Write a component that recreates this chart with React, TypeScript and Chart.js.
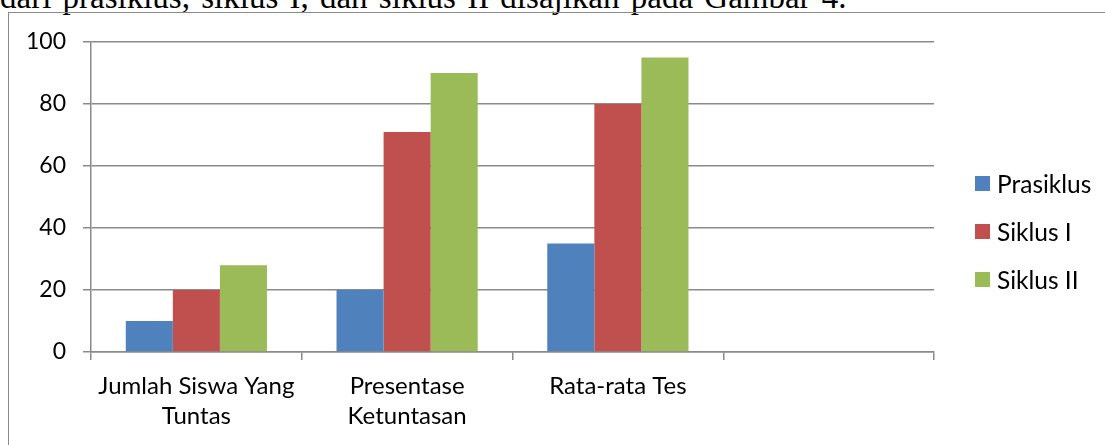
import React, { useEffect, useRef } from "react";
import { Chart, registerables } from "chart.js";

Chart.register(...registerables);

const categories: (string | string[])[] = [
  ["Jumlah Siswa Yang", "Tuntas"],
  ["Presentase", "Ketuntasan"],
  "Rata-rata Tes",
  "",
];
const seriesNames = ["Prasiklus", "Siklus I", "Siklus II"];
const prasiklus = [10, 20, 35, null];
const siklusI = [20, 71, 80, null];
const siklusII = [28, 90, 95, null];
const seriesColors = ["#4F81BD", "#C0504D", "#9BBB59"];
const yMin = 0;
const yMax = 100;
const yStep = 20;
const caption = "dari prasiklus, siklus I, dan siklus II disajikan pada Gambar 4.";

const FONT = "Lato, 'Open Sans', sans-serif";
const GRID = "#8a8a8a";

export default function App() {
  const ref = useRef<HTMLCanvasElement | null>(null);

  useEffect(() => {
    if (!ref.current) return;
    const values = [prasiklus, siklusI, siklusII];
    const chart = new Chart(ref.current, {
      type: "bar",
      data: {
        labels: categories,
        datasets: seriesNames.map((name, i) => ({
          label: name,
          data: values[i],
          backgroundColor: seriesColors[i],
          borderWidth: 0,
          categoryPercentage: 0.67,
          barPercentage: 1,
        })),
      },
      options: {
        responsive: false,
        animation: false,
        devicePixelRatio: 1,
        layout: { padding: { left: 0, top: 42, right: 171, bottom: 0 } },
        plugins: {
          legend: { display: false },
          tooltip: { enabled: false },
          title: { display: false },
        },
        scales: {
          x: {
            offset: true,
            grid: {
              offset: true,
              drawOnChartArea: false,
              drawTicks: true,
              tickLength: 8,
              color: GRID,
              lineWidth: 1.5,
            },
            border: { color: GRID, width: 1.5 },
            ticks: {
              color: "#000",
              font: { family: FONT, size: 24, lineHeight: 1.27 },
              padding: 11,
              maxRotation: 0,
              minRotation: 0,
              autoSkip: false,
            },
            afterFit: (scale: any) => {
              scale.height = 445 - 352;
            },
          },
          y: {
            min: yMin,
            max: yMax,
            grid: {
              color: GRID,
              lineWidth: 1.5,
              drawTicks: true,
              tickLength: 8,
            },
            border: { color: GRID, width: 1.5 },
            ticks: {
              stepSize: yStep,
              color: "#000",
              font: { family: FONT, size: 23 },
              padding: 17,
            },
            afterFit: (scale: any) => {
              scale.width = 91;
            },
          },
        },
      },
    });
    return () => chart.destroy();
  }, []);

  return (
    <div
      style={{
        position: "fixed",
        left: 0,
        top: 0,
        width: 1105,
        height: 445,
        overflow: "hidden",
        background: "#fff",
      }}
    >
      <div
        style={{
          position: "absolute",
          left: 0,
          top: -18.6,
          fontFamily: "'Liberation Serif', serif",
          fontSize: 33,
          lineHeight: "33px",
          wordSpacing: 3,
          whiteSpace: "nowrap",
          color: "#000",
        }}
      >
        {caption}
      </div>
      <div
        style={{
          position: "absolute",
          left: 8,
          top: 12,
          width: 1300,
          height: 700,
          border: `1.5px solid ${GRID}`,
          boxSizing: "border-box",
        }}
      />
      <canvas
        ref={ref}
        width={1105}
        height={445}
        style={{ position: "absolute", left: 0, top: 0, width: 1105, height: 445 }}
      />
      {seriesNames.map((name, i) => (
        <div
          key={name}
          style={{
            position: "absolute",
            left: 975,
            top: 176 + i * 48,
            height: 15,
            display: "flex",
            alignItems: "center",
            whiteSpace: "nowrap",
          }}
        >
          <span
            style={{
              display: "inline-block",
              width: 15,
              height: 15,
              background: seriesColors[i],
              marginRight: 7,
            }}
          />
          <span style={{ fontFamily: FONT, fontSize: 24.5, color: "#000", lineHeight: "15px" }}>
            {name}
          </span>
        </div>
      ))}
    </div>
  );
}
